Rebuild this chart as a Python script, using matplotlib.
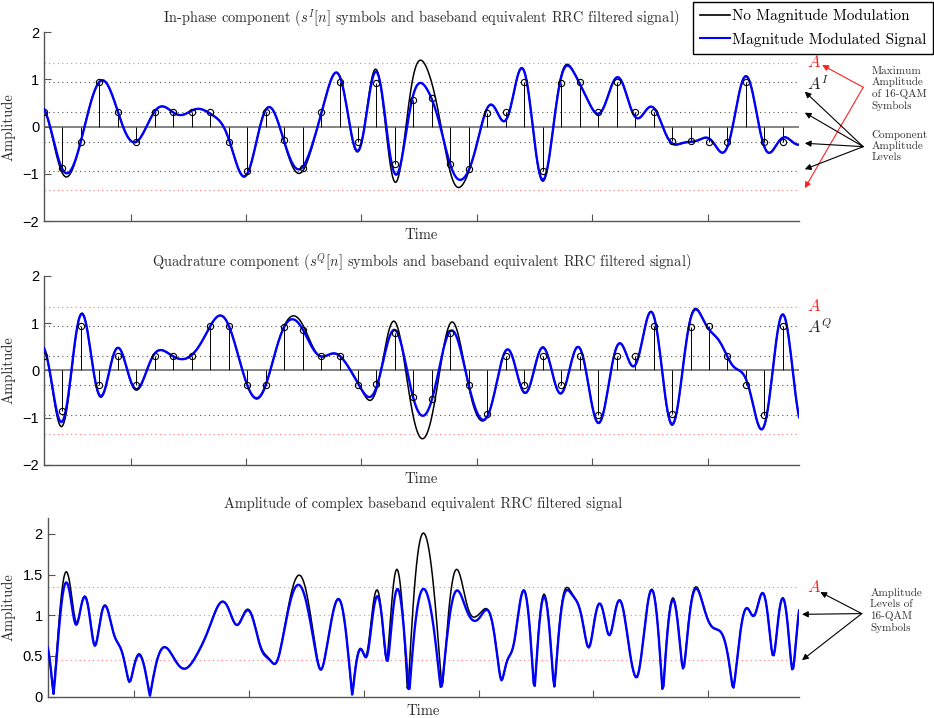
import numpy as np
import matplotlib
matplotlib.use('Agg')
import matplotlib.pyplot as plt
from matplotlib.lines import Line2D
from matplotlib.ticker import FormatStrFormatter

plt.rcParams['mathtext.fontset'] = 'cm'
plt.rcParams['font.family'] = ['Liberation Sans', 'DejaVu Sans']

# 16-QAM symbols (component levels in units of 1/sqrt(10))
I_levels = [1, -3, -1, 3, 1, -1, 1, 1, 1, 1, -1, -3, 1, -1, -3, 1, 3, -1, 3, -3, 3,
            3, -3, -3, 1, 1, 3, -3, 3, 3, 1, 3, 1, 1, -1, -1, -1, -1, 3, -1, -1, -1]
Q_levels = [1, -3, 3, -1, 1, -1, 1, 1, 1, 3, 3, -1, -1, 3, 3, 1, 1, -1, -1, 3, -3,
            -3, 3, -1, -3, 1, -1, 1, -1, 1, -3, 1, 1, 3, -3, 3, 3, 1, -1, -3, 3, -3]

# magnitude modulated symbols (scaled where the envelope would exceed A)
I_mm = [0.316, -0.87, -0.316, 0.949, 0.316, -0.316, 0.316, 0.316, 0.316, 0.316, -0.316,
        -0.94, 0.31, -0.29, -0.87, 0.316, 0.949, -0.316, 0.93, -0.80, 0.565, 0.61, -0.80,
        -0.90, 0.30, 0.316, 0.949, -0.93, 0.92, 0.949, 0.316, 0.949, 0.316, 0.316, -0.31,
        -0.31, -0.316, -0.316, 0.949, -0.316, -0.316, -0.316]
Q_mm = [0.316, -0.86, 0.949, -0.30, 0.316, -0.30, 0.316, 0.316, 0.316, 0.949, 0.949,
        -0.31, -0.30, 0.92, 0.86, 0.316, 0.316, -0.31, -0.29, 0.80, -0.565, -0.60, 0.80,
        -0.30, -0.93, 0.316, -0.31, 0.31, -0.31, 0.316, -0.949, 0.316, 0.316, 0.949, -0.93,
        0.93, 0.949, 0.316, -0.31, -0.949, 0.949, -0.949]

n_shown = 41          # symbols inside the plotted window
sps = 16              # samples per symbol
first = 25            # sample index of symbol 0
beta = 0.35           # RRC roll-off
comp_levels = [0.316, 0.949]
A = 1.342
amp_levels = [0.447, 1.0, A]
xticks = [100, 200, 300, 400, 500, 600]


def rrc(t, b):
    t = np.asarray(t, dtype=float)
    with np.errstate(divide='ignore', invalid='ignore'):
        h = (np.sin(np.pi * t * (1 - b)) + 4 * b * t * np.cos(np.pi * t * (1 + b))) / \
            (np.pi * t * (1 - (4 * b * t) ** 2))
    h[t == 0] = 1 - b + 4 * b / np.pi
    sing = np.isclose(np.abs(t), 1 / (4 * b))
    h[sing] = b / np.sqrt(2) * ((1 + 2 / np.pi) * np.sin(np.pi / (4 * b)) +
                                (1 - 2 / np.pi) * np.cos(np.pi / (4 * b)))
    return h


def shape(symbols, samples):
    t = (samples - first) / sps
    out = np.zeros_like(t)
    for n, a in enumerate(symbols):
        out += a * rrc(t - n, beta)
    return out


samples = np.arange(first, 680, dtype=float)
sI = shape(np.array(I_levels) / np.sqrt(10), samples)
sQ = shape(np.array(Q_levels) / np.sqrt(10), samples)
mI = shape(I_mm, samples)
mQ = shape(Q_mm, samples)
sym_x = first + sps * np.arange(n_shown)

serif = 'cmr10'
grey = '#2b2b2b'

fig = plt.figure(figsize=(9.34, 7.18), dpi=100)
ax1 = fig.add_axes([0.0471, 0.6922, 0.8084, 0.2628])
ax2 = fig.add_axes([0.0471, 0.3524, 0.8084, 0.2632])
ax3 = fig.add_axes([0.0511, 0.0297, 0.8044, 0.2493])


def style(ax):
    for s in ['top', 'right']:
        ax.spines[s].set_visible(False)
    for s in ['left', 'bottom']:
        ax.spines[s].set_color('#555555')
        ax.spines[s].set_linewidth(1.0)
    ax.tick_params(direction='in', length=5, color='#555555', labelsize=10.5)
    ax.set_xticks(xticks)
    ax.set_xticklabels([])
    ax.set_xlim(first, 679)
    ax.set_xlabel('Time', fontfamily=serif, fontsize=10.5, color=grey, labelpad=2)
    ax.set_ylabel('Amplitude', fontfamily=serif, fontsize=10.5, color=grey, labelpad=5)


def component(ax, black, blue, sym, title):
    for lv in comp_levels:
        for sg in (1, -1):
            ax.axhline(sg * lv, color='#555555', lw=0.8, ls=(0, (1, 3)), zorder=0)
    for sg in (1, -1):
        ax.axhline(sg * A, color='#ff7878', lw=0.8, ls=(0, (1, 3)), zorder=0)
    ax.axhline(0, color='#7a7a7a', lw=1.3, zorder=1)
    ml, sl, bl = ax.stem(sym_x, sym[:n_shown], linefmt='k-', markerfmt='ko', basefmt=' ')
    sl.set_linewidth(0.7)
    sl.set_zorder(1.5)
    ml.set_markerfacecolor('none')
    ml.set_markersize(4.5)
    ml.set_markeredgewidth(0.8)
    ml.set_zorder(4)
    ax.plot(samples, black, color='k', lw=1.1, zorder=2)
    ax.plot(samples, blue, color='#0000ff', lw=1.7, zorder=3)
    ax.set_ylim(-2, 2)
    ax.set_yticks([-2, -1, 0, 1, 2])
    ax.set_title(title, fontfamily=serif, fontsize=10.4, color=grey, pad=7)
    style(ax)


component(ax1, sI, mI, I_mm,
          r'In-phase component ($s^I[n]$ symbols and baseband equivalent RRC filtered signal)')
component(ax2, sQ, mQ, Q_mm,
          r'Quadrature component ($s^Q[n]$ symbols and baseband equivalent RRC filtered signal)')

for lv in amp_levels:
    ax3.axhline(lv, color='#ff7878', lw=0.8, ls=(0, (1, 3)), zorder=0)
ax3.plot(samples, np.hypot(sI, sQ), color='k', lw=1.1, zorder=2)
ax3.plot(samples, np.hypot(mI, mQ), color='#0000ff', lw=1.7, zorder=3)
ax3.set_ylim(0, 2.2)
ax3.set_yticks([0, 0.5, 1, 1.5, 2])
ax3.yaxis.set_major_formatter(FormatStrFormatter('%g'))
ax3.set_title('Amplitude of complex baseband equivalent RRC filtered signal',
              fontfamily=serif, fontsize=10.4, color=grey, pad=7)
style(ax3)

# side labels for the levels
red = '#ff2020'
note = dict(fontfamily=serif, fontsize=8, color='#333333', linespacing=1.2,
            ha='left', va='center')
arrow = dict(arrowstyle='-|>', lw=0.8, mutation_scale=9, shrinkA=0, shrinkB=0)

ax1.text(686, 1.37, '$A$', color=red, fontsize=12, va='center', clip_on=False)
ax1.text(686, 0.92, '$A^I$', color='#222222', fontsize=12, va='center', clip_on=False)
ax1.text(742, 0.81, 'Maximum\nAmplitude\nof 16-QAM\nSymbols', clip_on=False, **note)
ax1.text(742, -0.41, 'Component\nAmplitude\nLevels', clip_on=False, **note)
for tx, ty in [(699, 1.307), (684, -1.305)]:
    ax1.annotate('', xy=(tx, ty), xytext=(734.6, 0.835), annotation_clip=False,
                 arrowprops=dict(color=red, **arrow))
for ty in [0.742, 0.297, -0.352, -0.903]:
    ax1.annotate('', xy=(684, ty), xytext=(734.6, -0.424), annotation_clip=False,
                 arrowprops=dict(color='k', **arrow))

ax2.text(686, 1.37, '$A$', color=red, fontsize=12, va='center', clip_on=False)
ax2.text(686, 0.93, '$A^Q$', color='#222222', fontsize=12, va='center', clip_on=False)

ax3.text(686, 1.346, '$A$', color=red, fontsize=12, va='center', clip_on=False)
ax3.text(741, 1.06, 'Amplitude\nLevels of\n16-QAM\nSymbols', clip_on=False, **note)
for tx, ty in [(697.5, 1.285), (681.6, 1.012), (681.6, 0.449)]:
    ax3.annotate('', xy=(tx, ty), xytext=(733.6, 1.021), annotation_clip=False,
                 arrowprops=dict(color='k', **arrow))

handles = [Line2D([], [], color='k', lw=1.2), Line2D([], [], color='#0000ff', lw=1.5)]
leg = fig.legend(handles, ['No Magnitude Modulation', 'Magnitude Modulated Signal'],
                 loc='upper right', bbox_to_anchor=(0.999, 0.997),
                 prop={'family': serif, 'size': 11}, fancybox=False, framealpha=1,
                 edgecolor='k', handlelength=2.0, handletextpad=0.1,
                 borderpad=0.45, labelspacing=0.6, borderaxespad=0)
leg.get_frame().set_linewidth(1.0)

fig.savefig('out.png', dpi=100)
